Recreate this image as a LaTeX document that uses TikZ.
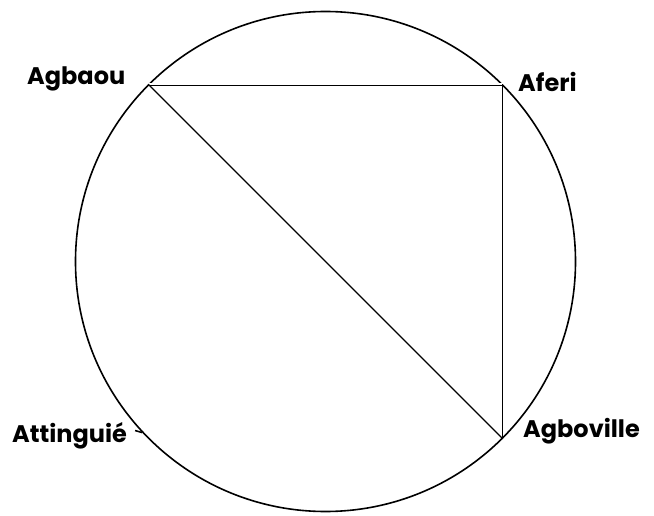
\documentclass[tikz,border=0pt]{standalone}
\usepackage{fontspec}
\setmainfont{Poppins}
\begin{document}
\begin{tikzpicture}[x=1pt,y=-1pt,
  lbl/.style={anchor=base west, inner sep=0pt, font=\fontsize{24}{24}\selectfont\bfseries},
  ring/.style={draw, circle, line width=1.6pt, minimum size=500pt, inner sep=0pt},
  chord/.style={line width=1.2pt},
  topchord/.style={draw, line width=0.9pt, double, double distance=1.4pt}]
\useasboundingbox (0,0) rectangle (654,516);
\node[ring] (circ) at (325.5,261.5) {};
\coordinate (agbaou) at (circ.135);
\coordinate (aferi) at (circ.45);
\coordinate (agboville) at (circ.-45);
\coordinate (attinguie) at (circ.223);
\coordinate (tickend) at ([shift={(-7,-2)}]attinguie);
\draw[topchord] (agbaou) -- (aferi);
\draw[chord] (aferi) -- (agboville);
\draw[chord] (agbaou) -- (agboville);
\draw[line width=1.6pt] (attinguie) -- (tickend);
\node[lbl] (lagbaou) at (27,85) {Agbaou};
\node[lbl] (laferi) at (518,92) {Aferi};
\node[lbl] (lattinguie) at (12,442) {Attinguié};
\node[lbl] (lagboville) at (523,437) {Agboville};
\end{tikzpicture}
\end{document}
